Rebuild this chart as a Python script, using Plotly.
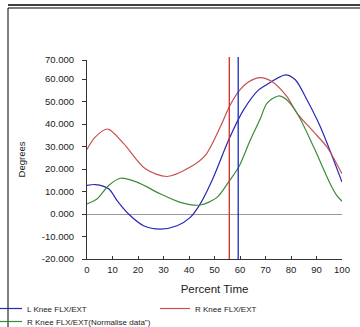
import plotly.graph_objects as go

# ---- data ----
l_knee_x = [0, 3.3, 8.5, 11.8, 16.3, 22.2, 28.7, 35.3, 40.5, 44.4, 49.6, 55.5, 61.4, 67.3, 69.3, 77.8, 81.7, 86.3, 91.5, 100]
l_knee_y = [12.7, 13.1, 11.2, 6.0, 0.0, -5.2, -6.7, -5.2, -1.5, 4.5, 16.4, 32.8, 46.3, 55.2, 56.7, 61.9, 59.7, 50.7, 38.8, 14.2]

r_knee_x = [0, 3, 8.2, 14.4, 22.9, 31.4, 40.5, 46.4, 52.3, 55.8, 59.5, 63, 68, 72.5, 78.4, 82.4, 88.9, 94.1, 100]
r_knee_y = [28.7, 34.0, 37.8, 31.3, 20.1, 16.7, 20.9, 26.1, 38.8, 47.7, 54.5, 58.5, 60.7, 58.9, 52.2, 44.8, 36.5, 29.8, 17.9]

r_norm_x = [0, 3.9, 8.5, 13.1, 19.6, 28.7, 36.6, 44.4, 51, 55.5, 59.5, 64, 68, 70.6, 75.1, 78.4, 82.4, 88.9, 95.4, 98, 100]
r_norm_y = [4.5, 6.7, 12.7, 15.9, 14.2, 9.0, 5.2, 4.0, 7.4, 14.2, 20.9, 32.8, 42.5, 49.3, 52.5, 50.7, 44.8, 29.8, 13.4, 8.2, 5.7]

event_times = [55.8, 59.3]          # red (R), blue (L) vertical markers
event_colors = ["#d42a2a", "#1a2cc4"]

series_names = ["L Knee FLX/EXT", "R Knee FLX/EXT", "R Knee FLX/EXT(Normalise data\")"]
series_colors = ["#2828b4", "#c85050", "#3c8c3c"]

y_tickvals = [-20, -10, 0, 10, 20, 30, 40, 50, 60, 68.5]
y_ticktext = ["-20.000", "-10.000", "0.000", "10.000", "20.000", "30.000", "40.000", "50.000", "60.000", "70.000"]
x_tickvals = [0, 10, 20, 30, 40, 50, 60, 70, 80, 90, 100]

# ---- figure ----
W, H = 360, 327
L, R, T, B = 87, 18, 60, 68
pw, ph = W - L - R, H - T - B


def px_x(p):
    return (p - L) / pw


def px_y(p):
    return (H - B - p) / ph


legend_ids = ["legend", "legend2", "legend3"]
legend_pos = [(-13, 294), (155, 294), (-13, 307)]   # pixel anchor (left, top) of each legend entry

fig = go.Figure()
for xs, ys, name, col, lid in zip([l_knee_x, r_knee_x, r_norm_x], [l_knee_y, r_knee_y, r_norm_y],
                                  series_names, series_colors, legend_ids):
    fig.add_trace(go.Scatter(x=xs, y=ys, mode="lines", name=name, legend=lid,
                             line=dict(color=col, width=1.2, shape="spline", smoothing=0.8)))

shapes = []
for t, c in zip(event_times, event_colors):
    shapes.append(dict(type="line", xref="x", yref="paper", x0=t, x1=t, y0=0, y1=px_y(57),
                       line=dict(color=c, width=1.3)))
# outer frame
shapes.append(dict(type="line", xref="paper", yref="paper", x0=px_x(8), x1=px_x(362), y0=px_y(5), y1=px_y(5),
                   line=dict(color="#000", width=1.5)))
shapes.append(dict(type="line", xref="paper", yref="paper", x0=px_x(8), x1=px_x(362), y0=px_y(8), y1=px_y(8),
                   line=dict(color="#000", width=1)))
shapes.append(dict(type="line", xref="paper", yref="paper", x0=px_x(8), x1=px_x(8), y0=px_y(8), y1=px_y(330),
                   line=dict(color="#000", width=1)))

legend_style = dict(orientation="v", xanchor="left", yanchor="top",
                    font=dict(size=8, family="Liberation Sans, Arial"),
                    bgcolor="rgba(0,0,0,0)", borderwidth=0)
legends = {}
for lid, (lx, ly) in zip(legend_ids, legend_pos):
    legends[lid] = dict(legend_style, x=px_x(lx), y=px_y(ly))

fig.update_layout(
    width=W, height=H,
    margin=dict(l=L, r=R, t=T, b=B, pad=0, autoexpand=False),
    paper_bgcolor="white", plot_bgcolor="white",
    font=dict(family="Liberation Sans, Arial, sans-serif", size=9, color="#222"),
    showlegend=True,
    shapes=shapes,
    xaxis=dict(range=[0, 100], tickvals=x_tickvals, ticks="inside", ticklen=3, tickcolor="#333",
               showline=True, linecolor="#333", linewidth=1, showgrid=False, zeroline=False,
               automargin=False, ticklabelstandoff=2,
               title=dict(text="Percent Time", font=dict(size=11.5), standoff=10),
               tickfont=dict(size=9.5)),
    yaxis=dict(range=[-20, 68.5], tickvals=y_tickvals, ticktext=y_ticktext, ticks="outside", ticklen=4,
               tickcolor="#333", showline=True, linecolor="#333", linewidth=1, showgrid=False,
               zeroline=True, zerolinecolor="#999", zerolinewidth=1, automargin=False,
               ticklabelstandoff=6,
               title=dict(text="Degrees", font=dict(size=9.5), standoff=14),
               tickfont=dict(size=9.5)),
    **legends,
)

fig.write_html("out.html", config={"displayModeBar": False},
               post_script="document.body.style.margin='0';")
